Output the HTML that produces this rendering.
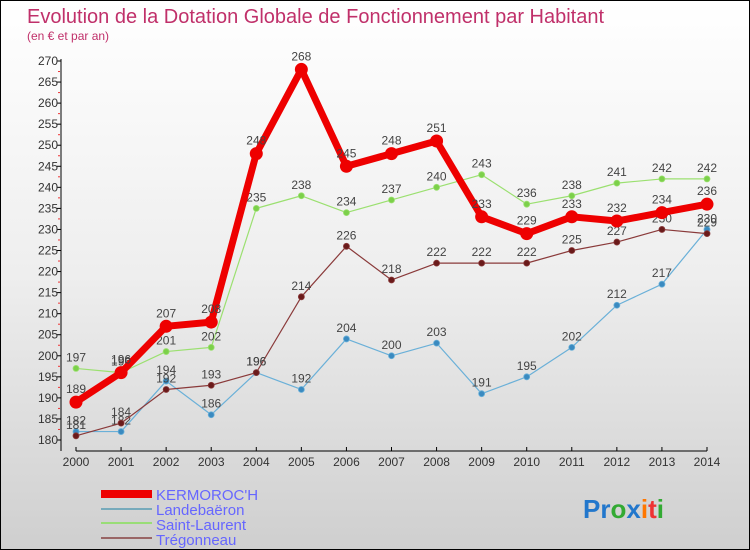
<!DOCTYPE html>
<html><head><meta charset="utf-8"><style>
body{margin:0}
#c{width:748px;height:548px;border:1px solid #000;background:linear-gradient(#fff 0%,#eee 50%,#cfcfcf 100%);position:relative;overflow:hidden;font-family:"Liberation Sans",sans-serif}
</style></head><body>
<div id="c">
<svg id="s" width="748" height="548" style="position:absolute;left:0;top:0">
<text x="26" y="22" font-size="20" fill="#c0306a">Evolution de la Dotation Globale de Fonctionnement par Habitant</text>
<text x="26" y="39" font-size="12" fill="#c0306a">(en € et par an)</text>
<g id="ax"></g><g id="series"></g>
<g>
<rect x="100" y="489" width="51" height="8" fill="#e00"/>
<text x="155" y="499" font-size="15" fill="#66f">KERMOROC'H</text>
<line x1="100" x2="151" y1="508" y2="508" stroke="#7ab" stroke-width="2"/>
<text x="155" y="514" font-size="15" fill="#66f">Landebaëron</text>
<line x1="100" x2="151" y1="522" y2="522" stroke="#9d7" stroke-width="2"/>
<text x="155" y="529" font-size="15" fill="#66f">Saint-Laurent</text>
<line x1="100" x2="151" y1="537" y2="537" stroke="#966" stroke-width="2"/>
<text x="155" y="544" font-size="15" fill="#66f">Trégonneau</text>
</g>
<text x="582" y="517" font-size="26" font-weight="bold"><tspan fill="#27c">Pr</tspan><tspan fill="#3a3">o</tspan><tspan fill="#27c">x</tspan><tspan fill="#f70">i</tspan><tspan fill="#e33">t</tspan><tspan fill="#3a3">i</tspan></text>
</svg>
</div>
<script>
const years=[2000,2001,2002,2003,2004,2005,2006,2007,2008,2009,2010,2011,2012,2013,2014];
const kermoroch=[189,196,207,208,248,268,245,248,251,233,229,233,232,234,236];
const landebaeron=[182,182,194,186,196,192,204,200,203,191,195,202,212,217,230];
const saintLaurent=[197,196,201,202,235,238,234,237,240,243,236,238,241,242,242];
const tregonneau=[181,184,192,193,196,214,226,218,222,222,222,225,227,230,229];
const yTicks=[180,185,190,195,200,205,210,215,220,225,230,235,240,245,250,255,260,265,270];
const NS="http://www.w3.org/2000/svg";
const X=i=>75+i*(706-75)/14, Y=v=>439-(v-180)*(439-60)/90;
function mk(t,a,p){const e=document.createElementNS(NS,t);for(const k in a)e.setAttribute(k,a[k]);p.appendChild(e);return e;}
const ax=document.getElementById('ax'),sg=document.getElementById('series');
let l=mk('line',{x1:60,x2:60,y1:58,y2:450,stroke:'#000'},ax);


l=mk('line',{x1:75,x2:706,y1:450,y2:450,stroke:'#000'},ax);


yTicks.forEach(v=>{mk('line',{x1:56,x2:60,y1:Y(v),y2:Y(v),stroke:'#000'},ax);
 if(v<270)mk('line',{x1:57,x2:59,y1:Y(v+2.5),y2:Y(v+2.5),stroke:'#e33'},ax);
 const t=mk('text',{x:57,y:Y(v)+4,'font-size':12,fill:'#333','text-anchor':'end'},ax);t.textContent=v;
 
 });
years.forEach((y,i)=>{mk('line',{x1:X(i),x2:X(i),y1:446,y2:450,stroke:'#000'},ax);
 const t=mk('text',{x:X(i),y:465,'font-size':12,fill:'#333','text-anchor':'middle'},ax);t.textContent=y;
 
 });
function draw(d,col,dot,w,r,name){
 const g=mk('g',{},sg);
 
 
 mk('polyline',{points:d.map((v,i)=>X(i)+','+Y(v)).join(' '),fill:'none',stroke:col,'stroke-width':w,'stroke-linejoin':'round'},g);
 d.forEach((v,i)=>{const c=mk('circle',{cx:X(i),cy:Y(v),r:r,fill:dot,stroke:col,'stroke-width':r>4?0:0.8},g);
  
  
  const t=mk('text',{x:X(i),y:Y(v)-7-(r>4?2:0),'font-size':12,fill:'#444','text-anchor':'middle'},g);t.textContent=v;});
}
draw(landebaeron,'#6ab0d8','#3a8ac0',1.2,3,'landebaeron');
draw(saintLaurent,'#9be070','#7cd04a',1.2,3,'saint-laurent');
draw(tregonneau,'#8a3a3a','#6a1a1a',1.2,3,'tregonneau');
draw(kermoroch,'#e00','#e00',7,6.5,'kermoroch');
</script>
</body></html>
